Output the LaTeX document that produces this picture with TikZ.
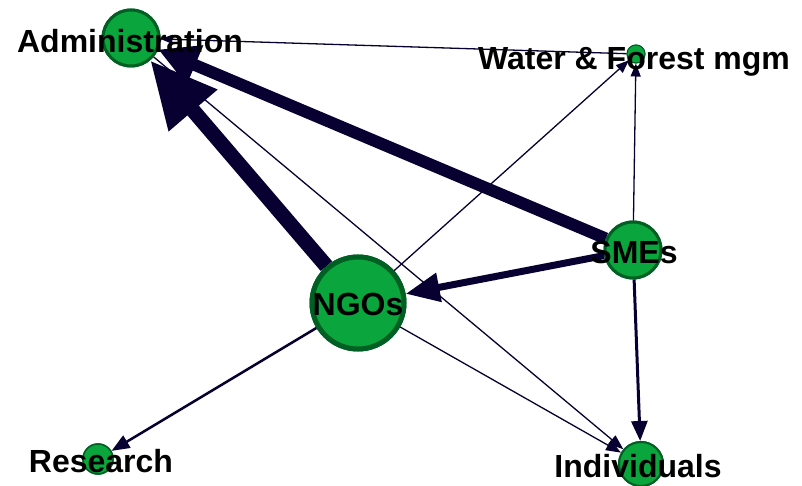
\documentclass[tikz,border=0pt]{standalone}
\usepackage{fontspec}
\setmainfont{Liberation Sans}
\usetikzlibrary{arrows.meta}
\definecolor{edgec}{RGB}{8,0,48}
\definecolor{nodefill}{RGB}{10,165,60}
\definecolor{nodeline}{RGB}{0,95,35}
\tikzset{
  vert/.style={circle, draw=nodeline, fill=nodefill, inner sep=0pt},
  edge/.style={draw=edgec, line cap=butt},
  lab/.style={font=\fontsize{32}{36}\selectfont\bfseries, text=black, inner sep=0pt, anchor=base}
}
\begin{document}
\begin{tikzpicture}[x=1pt,y=-1pt]
\useasboundingbox (0,0) rectangle (802,486);
% nodes (shapes)
\node[vert, minimum size=56pt, line width=3pt] (adm) at (131,38) {};
\node[vert, minimum size=18pt, line width=1pt] (wf) at (636,54) {};
\node[vert, minimum size=56pt, line width=3pt] (sme) at (633,250) {};
\node[vert, minimum size=92pt, line width=5pt] (ngo) at (358,303) {};
\node[vert, minimum size=30pt, line width=1.5pt] (res) at (98,459) {};
\node[vert, minimum size=44pt, line width=2pt] (ind) at (641,464) {};
% edges
\begin{scope}[on background layer/.style={}]
\draw[edge, line width=1.3pt, -{Triangle[length=12pt,width=9pt]}] (wf) -- (adm);
\draw[edge, line width=1.3pt, -{Triangle[length=15pt,width=11pt]}] (adm) -- (ind);
\draw[edge, line width=1.3pt, -{Triangle[length=15pt,width=11pt]}] (ngo) -- (ind);
\draw[edge, line width=1.3pt, -{Triangle[length=13pt,width=10pt]}] (ngo) -- (wf);
\draw[edge, line width=1.3pt, -{Triangle[length=13pt,width=10pt]}] (sme) -- (wf);
\draw[edge, line width=3pt, -{Triangle[length=20pt,width=16pt]}] (sme) -- (ind);
\draw[edge, line width=2.5pt, -{Triangle[length=18pt,width=14pt]}] (ngo) -- (res);
\draw[edge, line width=7pt, -{Triangle[length=34pt,width=28pt]}] (sme) -- (ngo);
\draw[edge, line width=12pt, -{Triangle[length=40pt,width=40pt]}] (sme) -- (adm);
\draw[edge, line width=15pt, -{Triangle[length=66pt,width=60pt]}] (ngo) -- (adm);
\end{scope}
% redraw nodes on top of edges
\node[vert, minimum size=56pt, line width=3pt] at (adm) {};
\node[vert, minimum size=18pt, line width=1pt] at (wf) {};
\node[vert, minimum size=56pt, line width=3pt] at (sme) {};
\node[vert, minimum size=92pt, line width=5pt] at (ngo) {};
\node[vert, minimum size=30pt, line width=1.5pt] at (res) {};
\node[vert, minimum size=44pt, line width=2pt] at (ind) {};
% labels
\node[lab] (admL) at (130,53) {Administration};
\node[lab] (wfL) at (634,70) {Water \& Forest mgm};
\node[lab] (smeL) at (634,263) {SMEs};
\node[lab] (ngoL) at (358,315) {NGOs};
\node[lab] (resL) at (101,472) {Research};
\node[lab] (indL) at (638,477) {Individuals};
\end{tikzpicture}
\end{document}
